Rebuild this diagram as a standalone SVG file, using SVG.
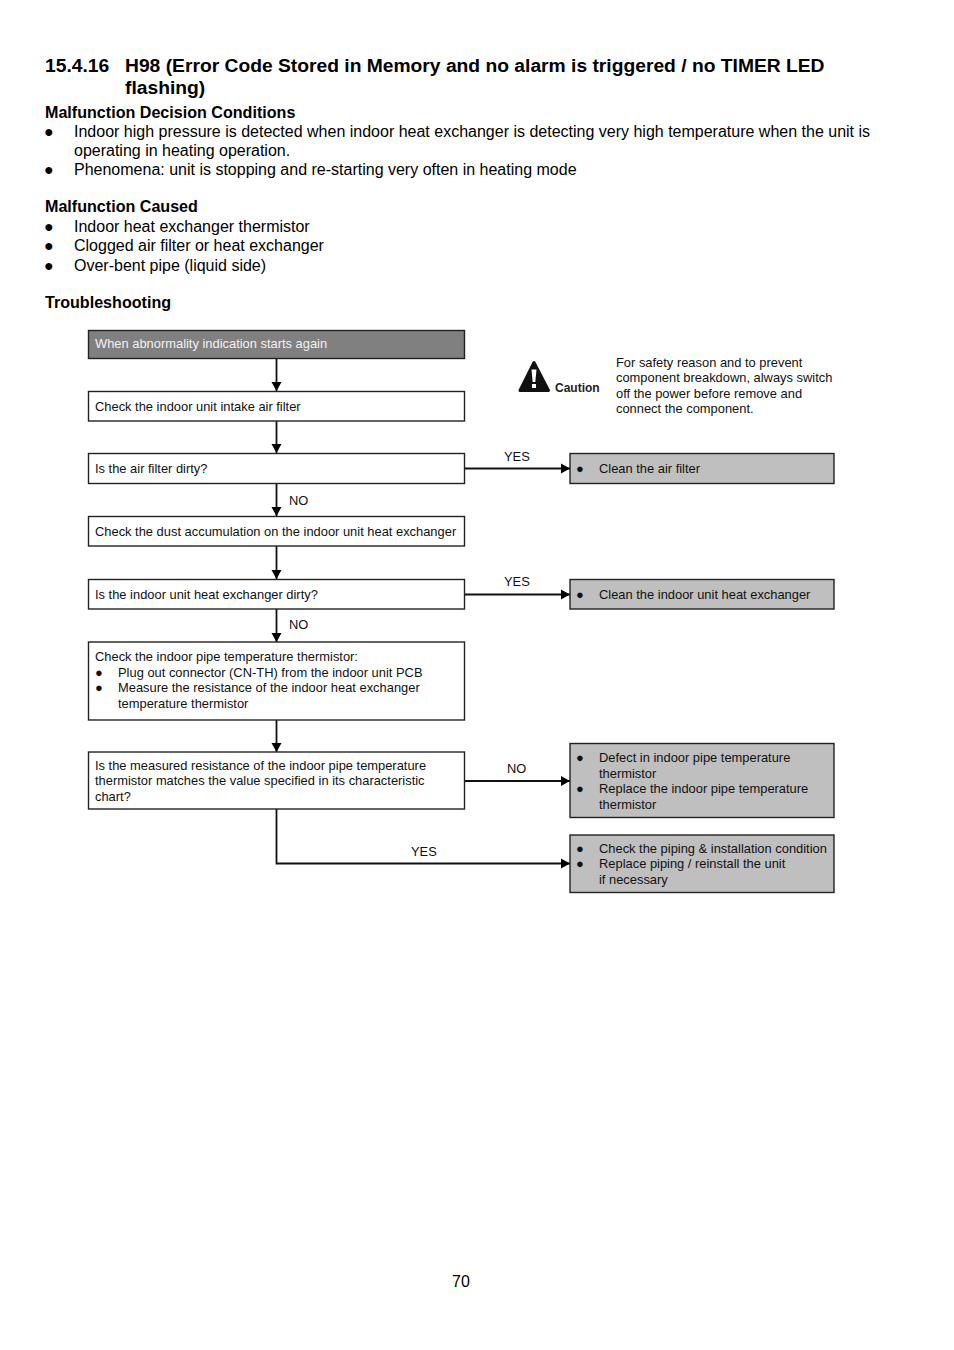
<svg xmlns="http://www.w3.org/2000/svg" width="954" height="1350" viewBox="0 0 954 1350">
<style>
text{font-family:"Liberation Sans",Arial,sans-serif;fill:#000}
.h1{font-size:19.250px;font-weight:bold}
.h2{font-size:16.100px;font-weight:bold}
.b{font-size:16px}
.s{font-size:12.9px;fill:#111}
.w{fill:#fff;stroke:#222;stroke-width:1.4}
.g{fill:#bfbfbf;stroke:#222;stroke-width:1.4}
.c{fill:none;stroke:#111;stroke-width:1.8}
</style>
<defs>
<marker id="a" markerUnits="userSpaceOnUse" markerWidth="10" markerHeight="11" refX="9" refY="5.500" orient="auto"><path d="M0,0.500L9,5.500L0,10.500z" fill="#000"/></marker>
</defs>
<rect width="954" height="1350" fill="#fff"/>
<g id="page-text">
<text class="h1" x="45" y="72">15.4.16</text>
<text class="h1" x="125" y="72">H98 (Error Code Stored in Memory and no alarm is triggered / no TIMER LED</text>
<text class="h1" x="125" y="94">flashing)</text>
<text class="h2" x="45" y="118">Malfunction Decision Conditions</text>
<text class="b" x="44" y="137">●</text>
<text class="b" x="74" y="137">Indoor high pressure is detected when indoor heat exchanger is detecting very high temperature when the unit is</text>
<text class="b" x="74" y="156">operating in heating operation.</text>
<text class="b" x="44" y="175">●</text>
<text class="b" x="74" y="175">Phenomena: unit is stopping and re-starting very often in heating mode</text>
<text class="h2" x="45" y="212">Malfunction Caused</text>
<text class="b" x="44" y="232">●</text><text class="b" x="74" y="232">Indoor heat exchanger thermistor</text>
<text class="b" x="44" y="251">●</text><text class="b" x="74" y="251">Clogged air filter or heat exchanger</text>
<text class="b" x="44" y="271">●</text><text class="b" x="74" y="271">Over-bent pipe (liquid side)</text>
<text class="h2" x="45" y="308">Troubleshooting</text>
<text class="b" x="452" y="1287">70</text>
</g>
<g id="connectors">
<path class="c" marker-end="url(#a)" d="M276.500 358V391"/>
<path class="c" marker-end="url(#a)" d="M276.500 421V453"/>
<path class="c" marker-end="url(#a)" d="M276.500 484V516"/>
<path class="c" marker-end="url(#a)" d="M276.500 546V579"/>
<path class="c" marker-end="url(#a)" d="M276.500 609V642"/>
<path class="c" marker-end="url(#a)" d="M276.500 720V752"/>
<path class="c" marker-end="url(#a)" d="M464 468.500H570"/>
<path class="c" marker-end="url(#a)" d="M464 594.500H570"/>
<path class="c" marker-end="url(#a)" d="M464 781H570"/>
<path class="c" marker-end="url(#a)" d="M276.500 809V863.500H570"/>
<text class="s" x="289" y="505">NO</text>
<text class="s" x="289" y="629">NO</text>
<text class="s" x="504" y="461">YES</text>
<text class="s" x="504" y="586">YES</text>
<text class="s" x="507" y="773">NO</text>
<text class="s" x="411" y="856">YES</text>
</g>
<g id="start"><rect x="88.500" y="330.500" width="376" height="28" fill="#808080" stroke="#222" stroke-width="1.400"/><text class="s" x="95" y="348" style="fill:#f2f2f2">When abnormality indication starts again</text></g>
<g id="check-filter"><rect class="w" x="88.500" y="391.500" width="376" height="29.500"/><text class="s" x="95" y="411">Check the indoor unit intake air filter</text></g>
<g id="filter-dirty"><rect class="w" x="88.500" y="453.500" width="376" height="30"/><text class="s" x="95" y="473">Is the air filter dirty?</text></g>
<g id="check-dust"><rect class="w" x="88.500" y="516.500" width="376" height="29.500"/><text class="s" x="95" y="536">Check the dust accumulation on the indoor unit heat exchanger</text></g>
<g id="hx-dirty"><rect class="w" x="88.500" y="579.500" width="376" height="29.500"/><text class="s" x="95" y="598.500">Is the indoor unit heat exchanger dirty?</text></g>
<g id="check-thermistor"><rect class="w" x="88.500" y="642" width="376" height="78"/>
<text class="s" x="95" y="661">Check the indoor pipe temperature thermistor:</text>
<text class="s" x="95" y="677">●</text><text class="s" x="118" y="677">Plug out connector (CN-TH) from the indoor unit PCB</text>
<text class="s" x="95" y="692">●</text><text class="s" x="118" y="692">Measure the resistance of the indoor heat exchanger</text>
<text class="s" x="118" y="708">temperature thermistor</text></g>
<g id="resistance-ok"><rect class="w" x="88.500" y="752" width="376" height="57"/>
<text class="s" x="95" y="770">Is the measured resistance of the indoor pipe temperature</text>
<text class="s" x="95" y="785">thermistor matches the value specified in its characteristic</text>
<text class="s" x="95" y="801">chart?</text></g>
<g id="clean-filter"><rect class="g" x="570" y="453.500" width="264" height="30"/><text class="s" x="576" y="473">●</text><text class="s" x="599" y="473">Clean the air filter</text></g>
<g id="clean-hx"><rect class="g" x="570" y="579.500" width="264" height="29.500"/><text class="s" x="576" y="598.500">●</text><text class="s" x="599" y="598.500">Clean the indoor unit heat exchanger</text></g>
<g id="defect"><rect class="g" x="570" y="743.500" width="264" height="74"/>
<text class="s" x="576" y="762">●</text><text class="s" x="599" y="762">Defect in indoor pipe temperature</text>
<text class="s" x="599" y="778">thermistor</text>
<text class="s" x="576" y="793">●</text><text class="s" x="599" y="793">Replace the indoor pipe temperature</text>
<text class="s" x="599" y="809">thermistor</text></g>
<g id="piping"><rect class="g" x="570" y="835" width="264" height="57.500"/>
<text class="s" x="576" y="853">●</text><text class="s" x="599" y="853">Check the piping &amp; installation condition</text>
<text class="s" x="576" y="868">●</text><text class="s" x="599" y="868">Replace piping / reinstall the unit</text>
<text class="s" x="599" y="884">if necessary</text></g>
<g id="caution">
<path d="M534 362.500L548.500 390.500H520z" fill="#111" stroke="#111" stroke-width="3" stroke-linejoin="round"/>
<path d="M531.500 369.500H536.500L535.300 382H532.700z" fill="#fff"/><rect x="532" y="384" width="4" height="4" fill="#fff"/>
<text x="555" y="392" style="font-size:12px;font-weight:bold;fill:#222">Caution</text>
<text class="s" x="616" y="367">For safety reason and to prevent</text>
<text class="s" x="616" y="382">component breakdown, always switch</text>
<text class="s" x="616" y="398">off the power before remove and</text>
<text class="s" x="616" y="413">connect the component.</text>
</g>
</svg>
